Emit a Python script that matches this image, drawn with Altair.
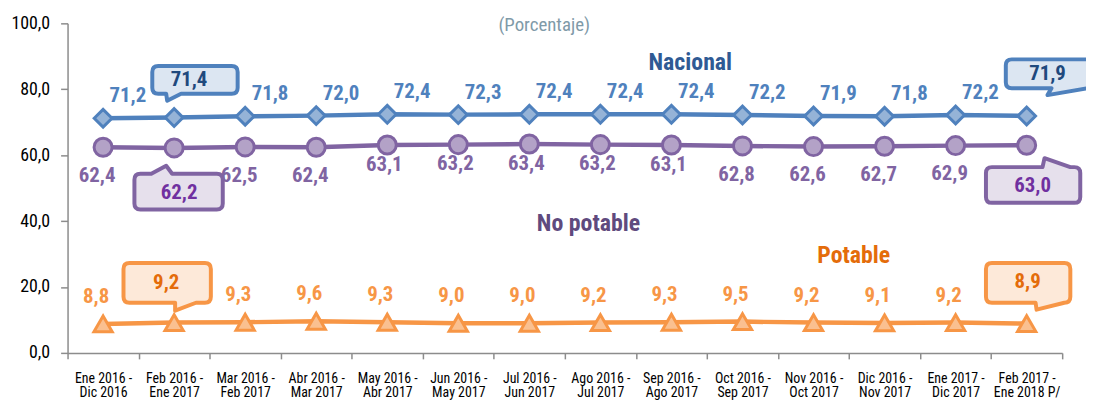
import altair as alt
import pandas as pd

# ---------------- data ----------------
periodos = [
    "Ene 2016 - Dic 2016", "Feb 2016 - Ene 2017", "Mar 2016 - Feb 2017",
    "Abr 2016 - Mar 2017", "May 2016 - Abr 2017", "Jun 2016 - May 2017",
    "Jul 2016 - Jun 2017", "Ago 2016 - Jul 2017", "Sep 2016 - Ago 2017",
    "Oct 2016 - Sep 2017", "Nov 2016 - Oct 2017", "Dic 2016 - Nov 2017",
    "Ene 2017 - Dic 2017", "Feb 2017 - Ene 2018 P/",
]
nacional = [71.2, 71.4, 71.8, 72.0, 72.4, 72.3, 72.4, 72.4, 72.4, 72.2, 71.9, 71.8, 72.2, 71.9]
no_potable = [62.4, 62.2, 62.5, 62.4, 63.1, 63.2, 63.4, 63.2, 63.1, 62.8, 62.6, 62.7, 62.9, 63.0]
potable = [8.8, 9.2, 9.3, 9.6, 9.3, 9.0, 9.0, 9.2, 9.3, 9.5, 9.2, 9.1, 9.2, 8.9]
series = ["Nacional", "No potable", "Potable"]
y_ticks = [0, 20, 40, 60, 80, 100]
callout_idx = [1, 13]
subtitulo = "(Porcentaje)"

rows = []
for i, p in enumerate(periodos):
    for s, vals in zip(series, [nacional, no_potable, potable]):
        rows.append({"periodo": p, "idx": i, "serie": s, "valor": vals[i]})
df = pd.DataFrame(rows)

# ---------------- style ----------------
FONT = "Roboto Condensed, Liberation Sans Narrow, Roboto, sans-serif"
line_c = {"Nacional": "#4F81BD", "No potable": "#8064A2", "Potable": "#F79646"}
fill_c = {"Nacional": "#95B3D7", "No potable": "#B3A2C7", "Potable": "#FAC090"}
box_fill = {"Nacional": "#DCE6F2", "No potable": "#E6E0EC", "Potable": "#FDE9D9"}
box_text = {"Nacional": "#1F497D", "No potable": "#7030A0", "Potable": "#E46C0A"}
label_c = {"Nacional": "#4F81BD", "No potable": "#8064A2", "Potable": "#F79646"}
AXIS_C = "#8C8C8C"
LBL = 21

x_enc = alt.X(
    "periodo:N", sort=periodos, bandPosition=0.5,
    scale=alt.Scale(type="band", paddingInner=0, paddingOuter=0),
    axis=alt.Axis(
        title=None, labelAngle=0, tickBand="extent", tickSize=6, tickColor=AXIS_C,
        domainColor=AXIS_C, domainWidth=1.5, tickWidth=1.5, labelFont=FONT,
        labelFontSize=14, labelColor="#000000", labelPadding=13, labelLineHeight=14,
        labelBaseline="top",
        labelExpr="[slice(datum.label, 0, indexof(datum.label, ' - ') + 2), "
                  "slice(datum.label, indexof(datum.label, ' - ') + 3)]",
    ),
)
y_enc = alt.Y(
    "valor:Q",
    scale=alt.Scale(domain=[0, 100], nice=False),
    axis=alt.Axis(
        title=None, values=y_ticks, grid=False, tickSize=7, tickColor=AXIS_C,
        domainColor=AXIS_C, domainWidth=1.5, tickWidth=1.5, labelFont=FONT,
        labelFontSize=18, labelColor="#000000", labelPadding=11,
        labelExpr="replace(format(datum.value, '.1f'), '.', ',')",
    ),
)

base = alt.Chart(df).encode(x=x_enc, y=y_enc)
lab_expr = "replace(format(datum.valor, '.1f'), '.', ',')"

lines = base.mark_line(strokeWidth=4.5).encode(
    color=alt.Color("serie:N", scale=alt.Scale(domain=series, range=[line_c[s] for s in series]), legend=None)
)
points = base.mark_point(opacity=1, strokeWidth=3).encode(
    fill=alt.Fill("serie:N", scale=alt.Scale(domain=series, range=[fill_c[s] for s in series]), legend=None),
    stroke=alt.Stroke("serie:N", scale=alt.Scale(domain=series, range=[line_c[s] for s in series]), legend=None),
    shape=alt.Shape("serie:N", scale=alt.Scale(domain=series, range=["diamond", "circle", "triangle-up"]), legend=None),
    size=alt.Size("serie:N", scale=alt.Scale(domain=series, range=[320, 340, 420]), legend=None),
)

layers = [lines, points]

# value labels
label_specs = [
    ("Nacional", "true", 25, -22),
    ("No potable", "datum.idx < 4 || datum.idx > 8", -6, 29),
    ("No potable", "datum.idx >= 4 && datum.idx <= 8", -3, 20),
    ("Potable", "true", -7, -27),
]
for s, cond, dx, dy in label_specs:
    layers.append(
        base.transform_filter(
            f"datum.serie == '{s}' && datum.idx != 1 && datum.idx != 13 && ({cond})"
        ).transform_calculate(lab=lab_expr).mark_text(
            dx=dx, dy=dy, font=FONT, fontSize=LBL, fontWeight="bold", color=label_c[s],
            align="center", baseline="middle",
        ).encode(text="lab:N")
    )


def box_path(L, T, R, B, r, edge, tail):
    pts = " ".join(f"L{x},{y}" for x, y in tail)
    p = f"M{L + r},{T} "
    if edge == "top":
        p += pts + " "
    p += f"L{R - r},{T} Q{R},{T} {R},{T + r} L{R},{B - r} Q{R},{B} {R - r},{B} "
    if edge == "bottom":
        p += pts + " "
    p += f"L{L + r},{B} Q{L},{B} {L},{B - r} L{L},{T + r} Q{L},{T} {L + r},{T} Z"
    return p


callouts = [
    ("Nacional", 1, (-22, -52, 64, -24, "bottom", [(7, -24), (-7, -17), (-8, -24)]), (15, -38)),
    ("Nacional", 13, (-21, -57, 78, -28, "bottom", [(62, -28), (21, -21), (25, -28)]), (21, -42)),
    ("No potable", 1, (-40, 26, 49, 62, "top", [(-23, 26), (-8, 18), (-2, 26)]), (5, 45)),
    ("No potable", 13, (-41, 22, 54, 58, "top", [(16, 22), (18, 13), (44, 22)]), (6, 41)),
    ("Potable", 1, (-51, -60, 37, -20, "bottom", [(22, -20), (1, -12), (1, -20)]), (-8, -40)),
    ("Potable", 13, (-41, -61, 44, -21, "bottom", [(38, -21), (10, -14), (9, -21)]), (1, -42)),
]
for s, i, (L, T, R, B, edge, tail), (tdx, tdy) in callouts:
    sub = base.transform_filter(f"datum.serie == '{s}' && datum.idx == {i}")
    layers.append(
        sub.mark_point(
            shape=box_path(L, T, R, B, 6, edge, tail), size=4, opacity=1,
            fill=box_fill[s], stroke=line_c[s], strokeWidth=4, strokeJoin="round",
        )
    )
    layers.append(
        sub.transform_calculate(lab=lab_expr).mark_text(
            dx=tdx, dy=tdy, font=FONT, fontSize=LBL, fontWeight="bold", color=box_text[s],
            align="center", baseline="middle",
        ).encode(text="lab:N")
    )

# series names and subtitle
names = pd.DataFrame({
    "periodo": [periodos[8], periodos[7], periodos[11], periodos[6]],
    "valor": [88.0, 39.2, 29.5, 99.4],
    "txt": ["Nacional", "No potable", "Potable", subtitulo],
    "col": ["#2F5A94", "#5F4A7E", "#E46C0A", "#7F9AA8"],
    "fw": ["bold", "bold", "bold", "normal"],
    "fs": [24, 24, 24, 19],
    "dx": [19, -12, -31, 15],
})
for _, r in names.iterrows():
    layers.append(
        alt.Chart(pd.DataFrame([r.to_dict()])).mark_text(
            font=FONT, fontSize=int(r["fs"]), fontWeight=r["fw"], color=r["col"],
            dx=int(r["dx"]), align="center", baseline="middle",
        ).encode(x=x_enc, y=y_enc, text="txt:N")
    )

chart = alt.layer(*layers).properties(
    width=1002, height=332,
    padding={"left": 60, "top": 14, "right": 24, "bottom": 48},
    autosize=alt.AutoSizeParams(type="none"),
    background="white",
).configure_view(stroke=None)

chart.save("out.html", embed_options={"renderer": "svg", "actions": False})
